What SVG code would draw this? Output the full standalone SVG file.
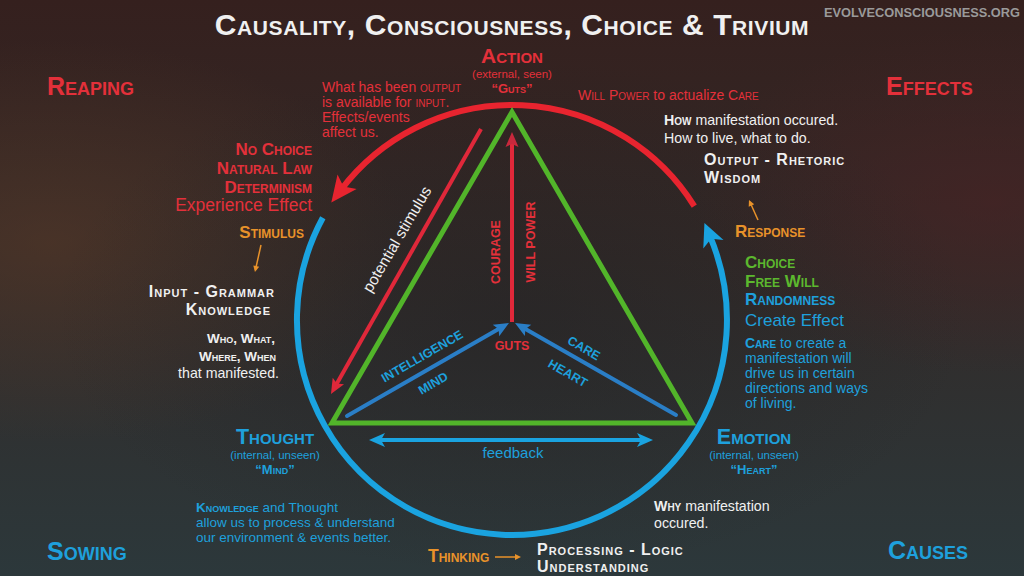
<svg xmlns="http://www.w3.org/2000/svg" width="1024" height="576" viewBox="0 0 1024 576">
<defs>
<linearGradient id="bg" x1="0" y1="0" x2="0" y2="1">
<stop offset="0" stop-color="#35201e"/>
<stop offset="0.45" stop-color="#322a28"/>
<stop offset="1" stop-color="#2c383b"/>
</linearGradient>
<radialGradient id="glowL" cx="0.05" cy="0.42" r="0.35">
<stop offset="0" stop-color="#5a3a28" stop-opacity="0.55"/>
<stop offset="1" stop-color="#5a3a28" stop-opacity="0"/>
</radialGradient>
<radialGradient id="glowR" cx="0.97" cy="0.35" r="0.3">
<stop offset="0" stop-color="#4a2224" stop-opacity="0.6"/>
<stop offset="1" stop-color="#4a2224" stop-opacity="0"/>
</radialGradient>
<radialGradient id="dark" cx="0.5" cy="0.55" r="0.45">
<stop offset="0" stop-color="#1e1f22" stop-opacity="0.4"/>
<stop offset="1" stop-color="#1e1f22" stop-opacity="0"/>
</radialGradient>
<marker id="hRedBig" markerUnits="userSpaceOnUse" markerWidth="40" markerHeight="40" refX="0" refY="0" orient="auto" overflow="visible">
<path d="M-10,-12 L16,0 L-10,12 L-4,0 Z" fill="#e8242f"/>
</marker>
<marker id="hBlueBig" markerUnits="userSpaceOnUse" markerWidth="40" markerHeight="40" refX="0" refY="0" orient="auto" overflow="visible">
<path d="M-9,-11 L14,0 L-9,11 L-3,0 Z" fill="#1aa3e0"/>
</marker>
<marker id="hRed" markerUnits="userSpaceOnUse" markerWidth="30" markerHeight="30" refX="0" refY="0" orient="auto" overflow="visible">
<path d="M-5,-6.5 L10,0 L-5,6.5 L-2,0 Z" fill="#e0283a"/>
</marker>
<marker id="hRed2" markerUnits="userSpaceOnUse" markerWidth="30" markerHeight="30" refX="0" refY="0" orient="auto" overflow="visible">
<path d="M-5,-6.5 L10,0 L-5,6.5 L-2,0 Z" fill="#c8283c"/>
</marker>
<marker id="hBlue" markerUnits="userSpaceOnUse" markerWidth="30" markerHeight="30" refX="0" refY="0" orient="auto" overflow="visible">
<path d="M-5,-6.5 L10,0 L-5,6.5 L-2,0 Z" fill="#2a7ec6"/>
</marker>
<marker id="hCyan" markerUnits="userSpaceOnUse" markerWidth="30" markerHeight="30" refX="0" refY="0" orient="auto-start-reverse" overflow="visible">
<path d="M-6,-7 L10,0 L-6,7 L-2,0 Z" fill="#1aa3e0"/>
</marker>
<marker id="hOr" markerUnits="userSpaceOnUse" markerWidth="20" markerHeight="20" refX="0" refY="0" orient="auto" overflow="visible">
<path d="M-4,-3 L2,0 L-4,3 Z" fill="#e8922a"/>
</marker>
</defs>
<style>
text { font-family: "Liberation Sans", Arial, sans-serif; }
.sc { font-variant: small-caps; }
.b { font-weight: bold; }
.red { fill: #e3303a; }
.blue { fill: #1ea0dc; }
.wht { fill: #f0f0f0; }
.org { fill: #e8922a; }
.grn { fill: #5cb82e; }
.mid { text-anchor: middle; }
.end { text-anchor: end; }
.hd { font-size: 16px; letter-spacing: 1px; }
.arcR { fill: none; stroke: #e8242f; stroke-width: 6; }
.arcB { fill: none; stroke: #1aa3e0; stroke-width: 6; }
.tri { fill: none; stroke: #52b52a; stroke-width: 5; stroke-linejoin: miter; }
.lnB { fill: none; stroke: #2a7ec6; stroke-width: 4; stroke-linecap: round; }
.lnR { fill: none; stroke: #e0283a; stroke-width: 4; }
.lnC { fill: none; stroke: #1aa3e0; stroke-width: 4; }
.lnO { fill: none; stroke: #e8922a; stroke-width: 1.5; }
.inner { font-size: 12.5px; font-weight: bold; }
</style>

<rect width="1024" height="576" fill="url(#bg)"/>
<rect width="1024" height="576" fill="url(#glowL)"/>
<rect width="1024" height="576" fill="url(#glowR)"/>
<rect width="1024" height="576" fill="url(#dark)"/>

<g id="title">
<text x="512" y="35" class="sc b mid wht" font-size="30" letter-spacing="0.6">Causality, Consciousness, Choice &amp; Trivium</text>
</g>
<g id="watermark">
<text x="1020" y="17" class="b end" font-size="12.8" fill="#9a9a9a">EVOLVECONSCIOUSNESS.ORG</text>
</g>

<g id="connectors">
<path class="arcR" d="M694.3,206.1 A215,215 0 0 0 341.0,189.7" marker-end="url(#hRedBig)"/>
<path class="arcB" d="M322.8,217.7 A215,215 0 1 0 709.9,236.0" marker-end="url(#hBlueBig)"/>
<path class="tri" d="M512,112 L692,423 L332,423 Z"/>
<line class="lnR" x1="512" y1="322" x2="512" y2="142" stroke="#c8283c" marker-end="url(#hRed2)"/>
<line class="lnB" x1="347" y1="416" x2="500.3" y2="328" marker-end="url(#hBlue)"/>
<line class="lnB" x1="676" y1="415" x2="523.7" y2="328" marker-end="url(#hBlue)"/>
<line class="lnR" x1="481" y1="129" x2="335.9" y2="385.3" marker-end="url(#hRed)"/>
<line class="lnC" x1="379" y1="440" x2="643" y2="440" marker-start="url(#hCyan)" marker-end="url(#hCyan)"/>
<line class="lnO" x1="261" y1="245" x2="255.4" y2="270" marker-end="url(#hOr)"/>
<line class="lnO" x1="758" y1="220" x2="749.8" y2="201.8" marker-end="url(#hOr)"/>
<line class="lnO" x1="495" y1="557" x2="519" y2="557" marker-end="url(#hOr)"/>
</g>

<g id="inner-labels">
<text class="inner red mid" transform="translate(495,252) rotate(-90)" dy="4.5">COURAGE</text>
<text class="inner red mid" transform="translate(530,242) rotate(-90)" dy="4.5">WILL POWER</text>
<text class="wht mid" font-size="15.5" transform="translate(398,240) rotate(-59.5)" dy="4">potential stimulus</text>
<text class="inner red mid" x="512" y="350" font-size="12.5">GUTS</text>
<text class="inner blue mid" transform="translate(422,356) rotate(-30)" dy="4.5">INTELLIGENCE</text>
<text class="inner blue mid" transform="translate(433,383) rotate(-30)" dy="4.5">MIND</text>
<text class="inner blue mid" transform="translate(584,348) rotate(30)" dy="4.5">CARE</text>
<text class="inner blue mid" transform="translate(568,373) rotate(30)" dy="4.5">HEART</text>
<text class="blue mid" x="513" y="458" font-size="15">feedback</text>
</g>

<g id="corner-reaping"><text x="47" y="95" class="sc b red" font-size="25">Reaping</text></g>
<g id="corner-effects"><text x="886" y="95" class="sc b red" font-size="25">Effects</text></g>
<g id="corner-sowing"><text x="47" y="560" class="sc b blue" font-size="25">Sowing</text></g>
<g id="corner-causes"><text x="888" y="559" class="sc b blue" font-size="25">Causes</text></g>

<g id="node-action">
<text x="512" y="63" class="sc b red mid" font-size="21">Action</text>
<text x="512" y="78" class="red mid" font-size="11.5">(external, seen)</text>
<text x="512" y="93" class="sc b red mid" font-size="13">“Guts”</text>
</g>

<g id="node-thought">
<text x="275" y="444" class="sc b blue mid" font-size="21.5">Thought</text>
<text x="275" y="459" class="blue mid" font-size="11.5">(internal, unseen)</text>
<text x="275" y="474" class="sc b blue mid" font-size="13">“Mind”</text>
</g>

<g id="node-emotion">
<text x="754" y="444" class="sc b blue mid" font-size="21.5">Emotion</text>
<text x="754" y="459" class="blue mid" font-size="11.5">(internal, unseen)</text>
<text x="754" y="474" class="sc b blue mid" font-size="13">“Heart”</text>
</g>

<g id="note-output" font-size="14">
<text x="322" y="92" class="red">What has been <tspan class="sc">output</tspan></text>
<text x="322" y="107" class="red">is available for <tspan class="sc">input</tspan>.</text>
<text x="322" y="122" class="red">Effects/events</text>
<text x="322" y="137" class="red">affect us.</text>
</g>

<g id="note-willpower">
<text x="578" y="100" class="red" font-size="14"><tspan class="sc">Will Power</tspan> to actualize <tspan class="sc">Care</tspan></text>
</g>

<g id="note-how">
<text x="664" y="125" class="wht" font-size="14.2"><tspan class="sc b">How</tspan> manifestation occured.</text>
<text x="664" y="143" class="wht" font-size="14.2">How to live, what to do.</text>
</g>

<g id="node-output">
<text x="704" y="165" class="sc b wht hd">Output - Rhetoric</text>
<text x="704" y="183" class="sc b wht hd">Wisdom</text>
</g>

<g id="node-response">
<text x="735" y="237" class="sc b org" font-size="17">Response</text>
</g>

<g id="node-choice">
<text x="745" y="268" class="sc b grn" font-size="17">Choice</text>
<text x="745" y="287" class="sc b grn" font-size="17">Free Will</text>
<text x="745" y="305" class="sc b blue" font-size="17">Randomness</text>
<text x="745" y="326" class="blue" font-size="17">Create Effect</text>
</g>

<g id="note-care" font-size="14">
<text x="745" y="348" class="blue"><tspan class="sc b">Care</tspan> to create a</text>
<text x="745" y="363" class="blue">manifestation will</text>
<text x="745" y="378" class="blue">drive us in certain</text>
<text x="745" y="393" class="blue">directions and ways</text>
<text x="745" y="408" class="blue">of living.</text>
</g>

<g id="node-nochoice">
<text x="312" y="155" class="sc b red end" font-size="17">No Choice</text>
<text x="312" y="174" class="sc b red end" font-size="17">Natural Law</text>
<text x="312" y="193" class="sc b red end" font-size="17">Determinism</text>
<text x="312" y="211" class="red end" font-size="17.5">Experience Effect</text>
</g>

<g id="node-stimulus">
<text x="304" y="238" class="sc b org end" font-size="17">Stimulus</text>
</g>

<g id="node-input">
<text x="275" y="297" class="sc b wht end hd">Input - Grammar</text>
<text x="271" y="315" class="sc b wht end hd">Knowledge</text>
</g>

<g id="note-who">
<text x="275" y="343" class="sc b wht end" font-size="13.5">Who, What,</text>
<text x="276" y="361" class="sc b wht end" font-size="13.5">Where, When</text>
<text x="279" y="378" class="wht end" font-size="14.2">that manifested.</text>
</g>

<g id="note-knowledge" font-size="13.5">
<text x="196" y="512" class="blue"><tspan class="sc b">Knowledge</tspan> and Thought</text>
<text x="196" y="527" class="blue">allow us to process &amp; understand</text>
<text x="196" y="542" class="blue">our environment &amp; events better.</text>
</g>

<g id="note-why">
<text x="654" y="511" class="wht" font-size="14.2"><tspan class="sc b">Why</tspan> manifestation</text>
<text x="654" y="528" class="wht" font-size="14.2">occured.</text>
</g>

<g id="node-thinking">
<text x="428" y="562" class="sc b org" font-size="17.5">Thinking</text>
</g>

<g id="node-processing">
<text x="537" y="555" class="sc b wht hd">Processing - Logic</text>
<text x="537" y="572" class="sc b wht hd">Understanding</text>
</g>
</svg>
